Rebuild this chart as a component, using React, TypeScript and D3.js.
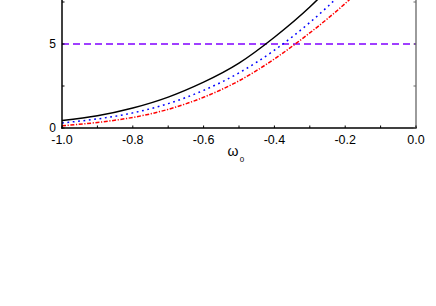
import React from 'react';
import * as d3 from 'd3';

const omega = [-1.0, -0.9, -0.8, -0.7, -0.6, -0.5, -0.4, -0.3, -0.2, -0.1];
const solidSeries = [0.45, 0.73, 1.19, 1.84, 2.73, 3.86, 5.4, 7.2, 9.4, 11.9];
const dottedSeries = [0.30, 0.54, 0.90, 1.45, 2.24, 3.28, 4.63, 6.28, 8.25, 10.6];
const dashDotSeries = [0.13, 0.33, 0.63, 1.11, 1.83, 2.81, 4.11, 5.66, 7.41, 9.41];
const threshold = 5;

const xTicks = [-1.0, -0.8, -0.6, -0.4, -0.2, 0.0];
const xMinorTicks = [-0.9, -0.7, -0.5, -0.3, -0.1];
const yTicks = [0, 5, 10];
const yMinorTicks = [2.5, 7.5];
const yLabels = [0, 5];

const width = 436;
const height = 306;
const margin = { left: 62, right: 20, bottom: 128 };
const font = '"Liberation Sans", Arial, sans-serif';

const App = () => {
  const x = d3.scaleLinear().domain([-1, 0]).range([margin.left, width - margin.right]);
  const y = d3.scaleLinear().domain([0, 10]).range([margin.bottom, margin.bottom - 168]);

  const line = (vals: number[]) =>
    d3.line<number>()
      .x((d, i) => x(omega[i]))
      .y(d => y(d))
      .curve(d3.curveNatural)(vals) || '';

  const series = [
    { vals: dashDotSeries, color: '#ff0000', dash: '4,1.6,1.2,1.6' },
    { vals: dottedSeries, color: '#0000ff', dash: '1.8,3.6' },
    { vals: solidSeries, color: '#000000', dash: undefined },
  ];

  const x0 = x(-1), x1 = x(0), yb = y(0), yt = y(10);

  return (
    <svg width={width} height={height} style={{ position: 'absolute', left: 0, top: 0, background: '#fff' }}>
      <defs>
        <clipPath id="plot">
          <rect x={x0} y={yt} width={x1 - x0} height={yb - yt} />
        </clipPath>
      </defs>

      <g clipPath="url(#plot)">
        <line x1={x0} x2={x1} y1={y(threshold)} y2={y(threshold)}
          stroke="#8000ff" strokeWidth={1.4} strokeDasharray="7,4" />
        {series.map((s, i) => (
          <path key={i} d={line(s.vals)} fill="none" stroke={s.color}
            strokeWidth={1.5} strokeDasharray={s.dash} />
        ))}
      </g>

      {/* axes frame */}
      <line x1={x1} x2={x1} y1={yt} y2={yb} stroke="#666" strokeWidth={1.3} />
      <line x1={x0} x2={x0} y1={yt} y2={yb + 0.7} stroke="#000" strokeWidth={1.5} />
      <line x1={x0 - 0.7} x2={x1 + 0.6} y1={yb} y2={yb} stroke="#000" strokeWidth={1.5} />

      {/* x ticks, pointing inward */}
      {xTicks.concat(xMinorTicks).map(t => (
        <line key={'xt' + t} x1={x(t)} x2={x(t)} y1={yb} y2={yb - 2.5} stroke="#000" strokeWidth={1} />
      ))}
      {xTicks.map(t => (
        <text key={'xl' + t} x={x(t)} y={144} textAnchor="middle" fontFamily={font} fontSize={12.5} fill="#000">
          {t.toFixed(1)}
        </text>
      ))}

      {/* y ticks on both sides */}
      {yTicks.concat(yMinorTicks).map(t => (
        <g key={'yt' + t}>
          <line x1={x0} x2={x0 + 2.5} y1={y(t)} y2={y(t)} stroke="#000" strokeWidth={1} />
          <line x1={x1} x2={x1 - 2.5} y1={y(t)} y2={y(t)} stroke="#666" strokeWidth={1} />
        </g>
      ))}
      {yLabels.map(t => (
        <text key={'yl' + t} x={x0 - 6} y={y(t)} dy="0.33em" textAnchor="end" fontFamily={font} fontSize={12} fill="#000">
          {t}
        </text>
      ))}

      <text x={227.5} y={155.5} fontFamily={font} fontSize={14} fill="#000">
        ω<tspan dx={1.2} dy={6} fontSize={8}>0</tspan>
      </text>
    </svg>
  );
};

export default App;
